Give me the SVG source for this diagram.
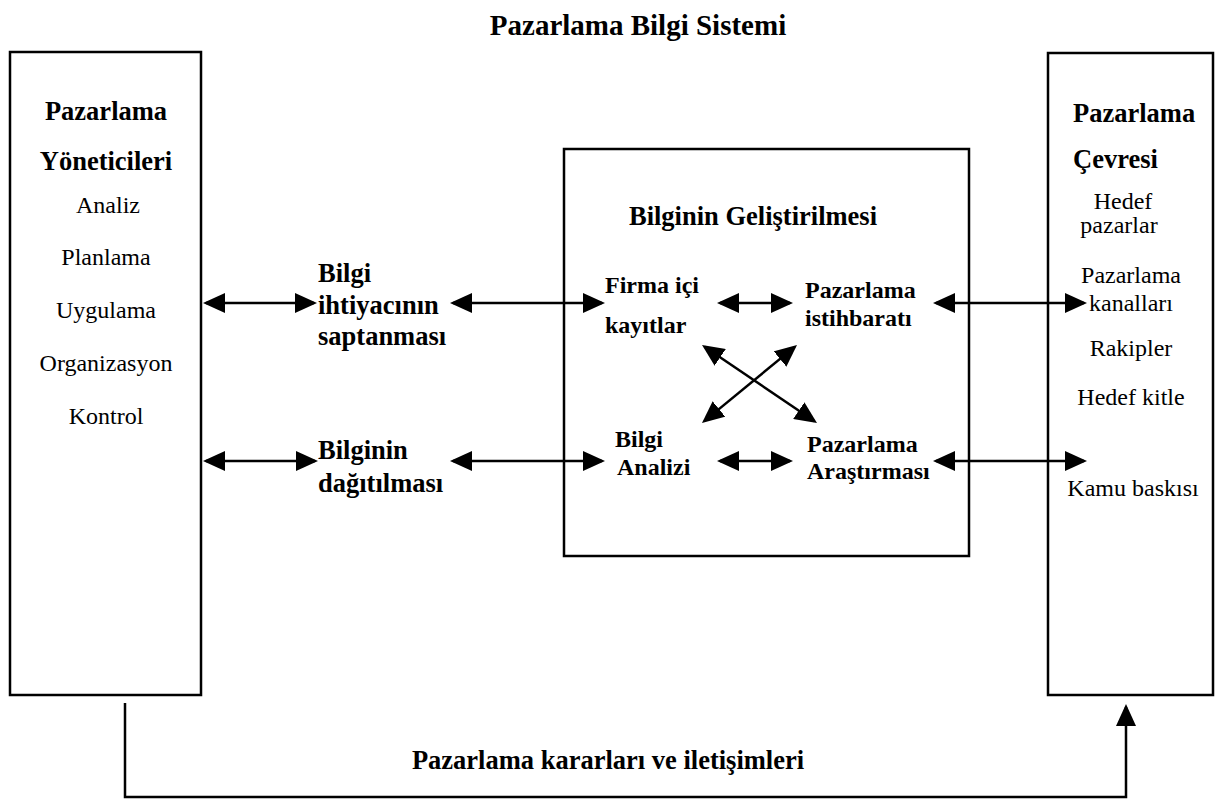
<svg xmlns="http://www.w3.org/2000/svg" width="1221" height="800" viewBox="0 0 1221 800">
  <defs>
    <marker id="head" viewBox="0 0 22 20" markerUnits="userSpaceOnUse" markerWidth="22" markerHeight="20" refX="19" refY="10" orient="auto-start-reverse">
      <path d="M0,0 L22,10 L0,20 z" fill="#000"/>
    </marker>
    <style>
      .box { fill: #fff; stroke: #000; stroke-width: 2.5; }
      .bold { font-family: "Liberation Serif", "Times New Roman", serif; font-weight: bold; font-size: 26.5px; fill: #000; }
      .inner { font-size: 24px; }
      .reg { font-family: "Liberation Serif", "Times New Roman", serif; font-size: 24px; fill: #000; }
      .mid { text-anchor: middle; }
      .link { fill: none; stroke: #000; stroke-width: 2.5; }
      .dbl { marker-start: url(#head); marker-end: url(#head); }
    </style>
  </defs>
  <rect width="1221" height="800" fill="#fff"/>

  <text id="title" class="bold mid" x="638" y="35" style="font-size:29px">Pazarlama Bilgi Sistemi</text>

  <g id="yoneticiler">
    <rect class="box" x="10" y="52" width="191" height="643"/>
    <text class="bold mid" x="106" y="120">Pazarlama</text>
    <text class="bold mid" x="106" y="170">Yöneticileri</text>
    <text class="reg mid" x="108" y="213">Analiz</text>
    <text class="reg mid" x="106" y="265">Planlama</text>
    <text class="reg mid" x="106" y="318">Uygulama</text>
    <text class="reg mid" x="106" y="371">Organizasyon</text>
    <text class="reg mid" x="106" y="424">Kontrol</text>
  </g>

  <g id="cevre">
    <rect class="box" x="1048" y="53" width="165" height="642"/>
    <text class="bold" x="1073" y="122">Pazarlama</text>
    <text class="bold" x="1073" y="168">Çevresi</text>
    <text class="reg mid" x="1123" y="209">Hedef</text>
    <text class="reg mid" x="1119" y="233">pazarlar</text>
    <text class="reg mid" x="1131" y="283">Pazarlama</text>
    <text class="reg mid" x="1131" y="311">kanalları</text>
    <text class="reg mid" x="1131" y="356">Rakipler</text>
    <text class="reg mid" x="1131" y="405">Hedef kitle</text>
    <text class="reg mid" x="1133" y="496">Kamu baskısı</text>
  </g>

  <g id="ihtiyac">
    <text class="bold" x="318" y="282">Bilgi</text>
    <text class="bold" x="318" y="314">ihtiyacının</text>
    <text class="bold" x="318" y="345">saptanması</text>
  </g>

  <g id="dagitim">
    <text class="bold" x="318" y="459">Bilginin</text>
    <text class="bold" x="318" y="492">dağıtılması</text>
  </g>

  <g id="gelistirme">
    <rect class="box" x="564" y="149" width="405" height="407"/>
    <text class="bold mid" x="753" y="225">Bilginin Geliştirilmesi</text>
  </g>

  <g id="firma-ici">
    <text class="bold inner" x="605" y="293">Firma içi</text>
    <text class="bold inner" x="605" y="333">kayıtlar</text>
  </g>

  <g id="istihbarat">
    <text class="bold inner" x="805" y="298">Pazarlama</text>
    <text class="bold inner" x="805" y="326">istihbaratı</text>
  </g>

  <g id="analiz">
    <text class="bold inner" x="615" y="447">Bilgi</text>
    <text class="bold inner" x="617" y="475">Analizi</text>
  </g>

  <g id="arastirma">
    <text class="bold inner" x="807" y="452">Pazarlama</text>
    <text class="bold inner" x="807" y="479">Araştırması</text>
  </g>

  <g id="connectors">
    <!-- upper row -->
    <line class="link dbl" x1="206" y1="303" x2="314" y2="303"/>
    <line class="link dbl" x1="453" y1="303" x2="602" y2="303"/>
    <line class="link dbl" x1="720" y1="303" x2="790" y2="303"/>
    <line class="link dbl" x1="936" y1="303" x2="1084" y2="303"/>
    <!-- lower row -->
    <line class="link dbl" x1="206" y1="461" x2="315" y2="461"/>
    <line class="link dbl" x1="453" y1="461" x2="602" y2="461"/>
    <line class="link dbl" x1="720" y1="461" x2="790" y2="461"/>
    <line class="link dbl" x1="936" y1="461" x2="1084" y2="461"/>
    <!-- crossing diagonals -->
    <line class="link dbl" x1="704.5" y1="346.7" x2="814.5" y2="421.3"/>
    <line class="link dbl" x1="794.7" y1="346.9" x2="704.3" y2="421.1"/>
    <!-- feedback loop -->
    <path class="link" d="M125,703 V797 H1126 V707" marker-end="url(#head)"/>
    <text class="bold mid" x="608" y="769">Pazarlama kararları ve iletişimleri</text>
  </g>
</svg>
